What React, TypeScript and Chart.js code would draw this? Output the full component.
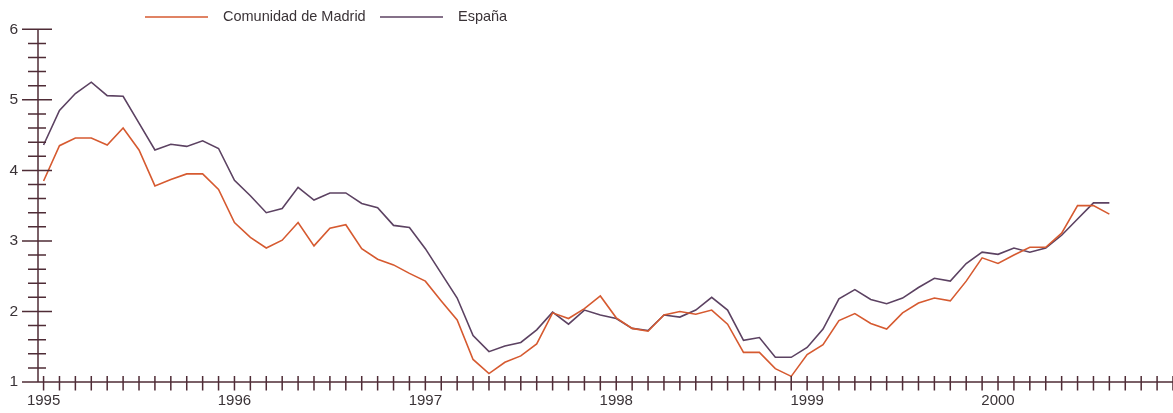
import React, { useEffect, useRef } from "react";
import { Chart, registerables } from "chart.js";

Chart.register(...registerables);

// Monthly series, Jan 1995 .. Aug 2000 (month index 0 = Jan 1995)
const seriesNames = ["Comunidad de Madrid", "España"];
const madrid = [
  3.85, 4.35, 4.46, 4.46, 4.36, 4.6, 4.29, 3.78, 3.87, 3.95, 3.95, 3.73,
  3.26, 3.05, 2.9, 3.01, 3.26, 2.93, 3.18, 3.23, 2.89, 2.74, 2.66, 2.54,
  2.43, 2.15, 1.88, 1.32, 1.12, 1.28, 1.37, 1.54, 1.98, 1.9, 2.04, 2.22,
  1.91, 1.76, 1.72, 1.95, 2.0, 1.96, 2.02, 1.82, 1.42, 1.42, 1.19, 1.08,
  1.39, 1.53, 1.87, 1.97, 1.83, 1.75, 1.98, 2.12, 2.19, 2.15, 2.43, 2.76,
  2.68, 2.8, 2.91, 2.91, 3.11, 3.5, 3.5, 3.38,
];
const espana = [
  4.36, 4.85, 5.09, 5.25, 5.06, 5.05, 4.67, 4.29, 4.37, 4.34, 4.42, 4.31,
  3.86, 3.64, 3.4, 3.46, 3.76, 3.58, 3.68, 3.68, 3.53, 3.47, 3.22, 3.19,
  2.89, 2.54, 2.19, 1.66, 1.43, 1.51, 1.56, 1.74, 1.99, 1.82, 2.02, 1.95,
  1.9, 1.76, 1.73, 1.95, 1.92, 2.02, 2.2, 2.02, 1.59, 1.63, 1.35, 1.35,
  1.49, 1.75, 2.18, 2.31, 2.17, 2.11, 2.19, 2.34, 2.47, 2.43, 2.68, 2.84,
  2.81, 2.9, 2.84, 2.9, 3.08, 3.31, 3.54, 3.54,
];
const yearLabels = ["1995", "1996", "1997", "1998", "1999", "2000"];
const monthTickCount = 72; // Jan 1995 .. Dec 2000
const yMin = 1;
const yMax = 6;
const yMinorStep = 0.2;

const COLOR_MADRID = "#d65a30";
const COLOR_ESPANA = "#5c4262";
const COLOR_AXIS = "#4f2c36";
const COLOR_TEXT = "#3a3337";
const FONT = "'Liberation Sans', Arial, Helvetica, sans-serif";

const axesPlugin = {
  id: "crossAxes",
  afterDatasetsDraw(chart: any) {
    const ctx = chart.ctx;
    const xs = chart.scales.x;
    const ys = chart.scales.y;
    const left = chart.chartArea.left;
    const right = chart.chartArea.right;
    const y0 = ys.getPixelForValue(yMin);
    const yTop = ys.getPixelForValue(yMax);
    ctx.save();
    ctx.strokeStyle = COLOR_AXIS;
    ctx.lineWidth = 1.5;
    ctx.beginPath();
    ctx.moveTo(left, yTop);
    ctx.lineTo(left, y0);
    ctx.moveTo(left - 16, y0);
    ctx.lineTo(right, y0);
    const steps = Math.round((yMax - yMin) / yMinorStep);
    for (let k = 0; k <= steps; k++) {
      const v = yMin + k * yMinorStep;
      const py = ys.getPixelForValue(v);
      const major = k % Math.round(1 / yMinorStep) === 0;
      if (major) {
        ctx.moveTo(left - 16, py);
        ctx.lineTo(left + 14, py);
      } else {
        ctx.moveTo(left - 10, py);
        ctx.lineTo(left + 8, py);
      }
    }
    for (let m = 0; m < monthTickCount; m++) {
      const px = xs.getPixelForValue(m);
      ctx.moveTo(px, y0 - 6);
      ctx.lineTo(px, y0 + 8.5);
    }
    ctx.stroke();
    ctx.restore();
  },
};

const legendPlugin = {
  id: "manualLegend",
  afterDraw(chart: any) {
    const ctx = chart.ctx;
    const items = chart.data.datasets.map((d: any) => ({ label: d.label, color: d.borderColor }));
    const starts = [145, 380];
    const y = 17;
    ctx.save();
    ctx.font = `14.5px ${FONT}`;
    ctx.textBaseline = "middle";
    ctx.fillStyle = COLOR_TEXT;
    items.forEach((it: any, i: number) => {
      const x = starts[i];
      ctx.strokeStyle = it.color;
      ctx.lineWidth = 1.6;
      ctx.beginPath();
      ctx.moveTo(x, y);
      ctx.lineTo(x + 63, y);
      ctx.stroke();
      ctx.fillText(it.label, x + 78, y);
    });
    ctx.restore();
  },
};

export default function App() {
  const ref = useRef<HTMLCanvasElement | null>(null);
  useEffect(() => {
    if (!ref.current) return;
    const chart = new Chart(ref.current, {
      type: "line",
      data: {
        datasets: [
          {
            label: seriesNames[0],
            data: madrid.map((v, i) => ({ x: i, y: v })),
            borderColor: COLOR_MADRID,
            backgroundColor: COLOR_MADRID,
            borderWidth: 1.6,
            pointRadius: 0,
            tension: 0,
          },
          {
            label: seriesNames[1],
            data: espana.map((v, i) => ({ x: i, y: v })),
            borderColor: COLOR_ESPANA,
            backgroundColor: COLOR_ESPANA,
            borderWidth: 1.6,
            pointRadius: 0,
            tension: 0,
          },
        ],
      },
      options: {
        animation: false,
        responsive: false,
        layout: { padding: { top: 24, left: 0, right: 0, bottom: 0 } },
        plugins: { legend: { display: false }, tooltip: { enabled: false } },
        scales: {
          x: {
            type: "linear",
            min: -0.35,
            max: monthTickCount - 1,
            grid: { display: false, drawTicks: false },
            border: { display: false },
            afterBuildTicks: (s: any) => {
              s.ticks = yearLabels.map((_, i) => ({ value: i * 12 }));
            },
            afterFit: (s: any) => {
              s.height = 31;
            },
            ticks: {
              autoSkip: false,
              maxRotation: 0,
              padding: 10,
              color: COLOR_TEXT,
              font: { family: FONT, size: 15 },
              callback: (v: any) => {
                const n = Math.round(Number(v) / 12);
                return yearLabels[n] ?? "";
              },
            },
          },
          y: {
            min: yMin,
            max: yMax,
            grid: { display: false, drawTicks: false },
            border: { display: false },
            afterFit: (s: any) => {
              s.width = 38;
            },
            ticks: {
              stepSize: 1,
              padding: 20,
              color: COLOR_TEXT,
              font: { family: FONT, size: 15.5 },
            },
          },
        },
      },
      plugins: [axesPlugin, legendPlugin],
    });
    return () => chart.destroy();
  }, []);
  return (
    <div style={{ position: "absolute", left: 0, top: 0, width: 1173, height: 413, background: "#fff" }}>
      <canvas ref={ref} width={1173} height={413} style={{ display: "block" }} />
    </div>
  );
}
